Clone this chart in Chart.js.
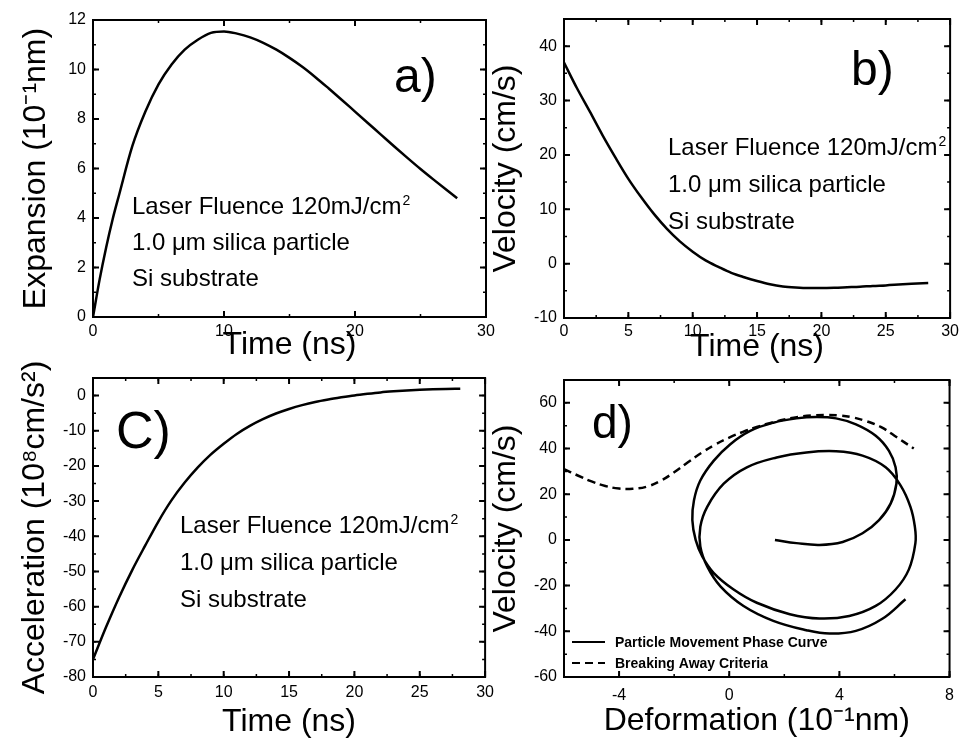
<!DOCTYPE html>
<html>
<head>
<meta charset="utf-8">
<script src="https://cdn.jsdelivr.net/npm/chart.js@4.4.1/dist/chart.umd.min.js"></script>
<style>
body { margin: 0; background: #fff; }
#wrap { position: relative; width: 963px; height: 749px; overflow: hidden; background: #fff; }
canvas { position: absolute; }
</style>
</head>
<body>
<div id="wrap">
  <canvas id="chartA" width="500" height="372" style="left:0;top:0"></canvas>
  <canvas id="chartB" width="483" height="372" style="left:480px;top:0"></canvas>
  <canvas id="chartC" width="500" height="394" style="left:0;top:355px"></canvas>
  <canvas id="chartD" width="483" height="394" style="left:480px;top:355px"></canvas>
</div>
<script>
// a) expansion (10^-1 nm) vs time (ns)
const timeA = [0, 0.5, 1, 1.5, 2, 3, 4, 5, 6, 7, 8, 9, 10, 11, 12, 13, 14, 15, 16, 17, 18, 19, 20, 21, 22, 23, 24, 25, 26, 27, 27.8];
const expansion = [0, 1.5, 2.8, 3.95, 4.95, 6.9, 8.3, 9.4, 10.2, 10.8, 11.2, 11.48, 11.54, 11.45, 11.3, 11.08, 10.8, 10.47, 10.1, 9.68, 9.23, 8.77, 8.3, 7.83, 7.36, 6.89, 6.43, 5.98, 5.55, 5.13, 4.8];

// b) velocity (cm/s) vs time
const timeB = [0, 1, 2, 3, 4, 5, 6, 7, 8, 9, 10, 11, 12, 13, 14, 15, 16, 17, 18, 19, 20, 21, 22, 23, 24, 25, 26, 27, 28.3];
const velocity = [37, 32.3, 28, 23.6, 19.5, 15.6, 12.2, 9.1, 6.4, 4.1, 2.2, 0.6, -0.6, -1.7, -2.5, -3.2, -3.8, -4.2, -4.4, -4.5, -4.5, -4.45, -4.35, -4.25, -4.1, -4.0, -3.85, -3.7, -3.55];

// c) acceleration (10^8 cm/s^2) vs time
const timeC = [0, 1, 2, 3, 4, 5, 6, 7, 8, 9, 10, 11, 12, 13, 14, 15, 16, 17, 18, 19, 20, 21, 22, 23, 24, 25, 26, 27, 28.1];
const acceleration = [-75, -65.8, -57.3, -49.6, -42.6, -35.8, -29.8, -24.8, -20.5, -16.8, -13.7, -10.9, -8.6, -6.7, -5.1, -3.8, -2.7, -1.8, -1.1, -0.5, 0.05, 0.5, 0.9, 1.2, 1.45, 1.65, 1.8, 1.9, 1.95];

// d) phase curve: deformation (10^-1 nm) vs velocity (cm/s)
const phaseDeform = [1.66, 2.44, 3.28, 4.12, 4.84, 5.44, 5.86, 6.07, 6.04, 5.80, 5.32, 4.60, 3.88, 3.16, 2.44, 1.60, 0.76, 0.04, -0.56, -1.05, -1.28, -1.34, -1.22, -0.98, -0.56, 0.16, 1.0, 2.2, 3.28, 4.36, 5.32, 6.04, 6.52, 6.76, 6.74, 6.58, 6.22, 5.68, 4.84, 3.88, 2.80, 1.72, 0.64, -0.20, -0.80, -1.05, -1.05, -0.80, -0.32, 0.52, 1.60, 2.80, 3.64, 4.60, 5.56, 6.40];
const phaseVelocity = [0, -1.4, -2.2, -0.9, 2.9, 8.7, 15.9, 24.6, 31.8, 39.0, 45.6, 50.6, 53.2, 53.8, 53.2, 51.3, 47.7, 41.9, 34.7, 26.0, 17.4, 8.7, 0, -7.2, -14.5, -21.7, -27.5, -32.5, -34.4, -33.3, -28.9, -21.7, -13.0, -1.4, 5.8, 14.5, 23.9, 31.8, 36.9, 38.8, 38.3, 36.1, 31.8, 24.6, 14.5, 5.8, -2.9, -11.6, -20.3, -28.9, -35.4, -39.5, -41.0, -39.8, -34.5, -26.0];
const critDeform = [-6.0, -5.5, -5.0, -4.5, -4.0, -3.5, -3.0, -2.5, -2.0, -1.5, -1.0, -0.5, 0, 0.5, 1.0, 1.5, 2.0, 2.5, 3.0, 3.5, 4.0, 4.5, 5.0, 5.5, 6.0, 6.7];
const critVelocity = [31, 28.2, 25.6, 23.6, 22.5, 22.4, 23.3, 25.8, 29.6, 34, 38.2, 41.8, 44.8, 47.3, 49.4, 51.2, 52.7, 53.8, 54.5, 54.7, 54.5, 53.6, 51.9, 49.5, 45.6, 40.0];

const noteLines = ['Laser Fluence 120mJ/cm', '1.0 \u03bcm silica particle', 'Si substrate'];
const legendLabels = ['Particle Movement Phase Curve', 'Breaking Away Criteria'];

const FONT = "'Liberation Sans', Arial, sans-serif";
const pts = (xs, ys) => xs.map((x, i) => ({x: x, y: ys[i]}));

// boxed frame with inward major/minor ticks on all four sides
const framePlugin = {
    id: 'frame',
    afterDatasetsDraw(chart, args, opts) {
        const {ctx, chartArea: a, scales: {x, y}} = chart;
        ctx.save();
        ctx.strokeStyle = '#000';
        const marks = (scale, step, len, horiz) => {
            let v = Math.ceil(scale.min / step - 1e-9) * step;
            for (; v <= scale.max + 1e-9; v += step) {
                const p = scale.getPixelForValue(v);
                ctx.beginPath();
                if (horiz) {
                    ctx.moveTo(p, a.bottom); ctx.lineTo(p, a.bottom - len);
                    ctx.moveTo(p, a.top); ctx.lineTo(p, a.top + len);
                } else {
                    ctx.moveTo(a.left, p); ctx.lineTo(a.left + len, p);
                    ctx.moveTo(a.right, p); ctx.lineTo(a.right - len, p);
                }
                ctx.stroke();
            }
        };
        ctx.lineWidth = 1.5;
        marks(x, opts.xMinor, 3, true);
        marks(y, opts.yMinor, 3, false);
        ctx.lineWidth = 2;
        marks(x, opts.xMajor, 6, true);
        marks(y, opts.yMajor, 6, false);
        ctx.strokeRect(a.left, a.top, a.right - a.left, a.bottom - a.top);
        ctx.restore();
    }
};

// panel letter, the three note lines, and the legend of panel d
const notesPlugin = {
    id: 'notes',
    afterDraw(chart, args, opts) {
        const ctx = chart.ctx;
        ctx.save();
        ctx.fillStyle = '#000';
        ctx.textBaseline = 'alphabetic';
        ctx.textAlign = 'left';
        ctx.font = opts.labelSize + 'px ' + FONT;
        ctx.fillText(opts.label, opts.labelX, opts.labelY);
        if (opts.noteX !== undefined) {
            ctx.font = '24px ' + FONT;
            noteLines.forEach((t, i) => {
                const yy = opts.noteY + i * opts.noteGap;
                ctx.fillText(t, opts.noteX, yy);
                if (i === 0) {
                    const w = ctx.measureText(t).width;
                    ctx.font = '14px ' + FONT;
                    ctx.fillText('2', opts.noteX + w + 1, yy - 9);
                    ctx.font = '24px ' + FONT;
                }
            });
        }
        if (opts.legendX !== undefined) {
            ctx.font = 'bold 14px ' + FONT;
            ctx.textBaseline = 'middle';
            chart.data.datasets.forEach((ds, i) => {
                const yy = opts.legendY + i * 21;
                ctx.strokeStyle = ds.borderColor;
                ctx.lineWidth = 2;
                ctx.setLineDash(ds.borderDash || []);
                ctx.beginPath();
                ctx.moveTo(opts.legendX, yy);
                ctx.lineTo(opts.legendX + 33, yy);
                ctx.stroke();
                ctx.setLineDash([]);
                ctx.fillText(ds.label, opts.legendX + 43, yy + 1);
            });
        }
        ctx.restore();
    }
};

function axis(cfg) {
    return {
        type: 'linear',
        min: cfg.min,
        max: cfg.max,
        grid: { display: false, drawTicks: false },
        border: { display: false },
        ticks: {
            stepSize: cfg.step,
            includeBounds: false,
            color: '#000',
            padding: cfg.tickPad,
            font: { family: FONT, size: 16 }
        },
        title: {
            display: true,
            text: cfg.title,
            color: '#000',
            font: { family: FONT, size: 32, lineHeight: 1 },
            padding: cfg.titlePad
        },
        afterFit: cfg.fit
    };
}

function makeChart(id, datasets, o) {
    return new Chart(document.getElementById(id), {
        type: 'line',
        data: { datasets: datasets },
        options: {
            responsive: false,
            animation: false,
            devicePixelRatio: 1,
            layout: { autoPadding: false, padding: o.padding },
            plugins: {
                legend: { display: false },
                tooltip: { enabled: false },
                frame: o.frame,
                notes: o.notes
            },
            scales: {
                x: axis(Object.assign({}, o.x, { fit: s => { s.height = o.xHeight; } })),
                y: axis(Object.assign({}, o.y, { fit: s => { s.width = o.yWidth; } }))
            }
        },
        plugins: [framePlugin, notesPlugin]
    });
}

const curve = (data, extra) => Object.assign({
    data: data,
    borderColor: '#000',
    borderWidth: 2.5,
    pointRadius: 0,
    fill: false,
    cubicInterpolationMode: 'monotone'
}, extra || {});

makeChart('chartA', [curve(pts(timeA, expansion))], {
    padding: { left: 0, top: 20, right: 14, bottom: 0 },
    xHeight: 55, yWidth: 93,
    x: { min: 0, max: 30, step: 10, tickPad: 5, title: 'Time (ns)', titlePad: { top: 0, bottom: 11 } },
    y: { min: 0, max: 12, step: 2, tickPad: 7, title: 'Expansion (10\u207b\u00b9nm)', titlePad: { top: 20, bottom: 0 } },
    frame: { xMajor: 10, xMinor: 5, yMajor: 2, yMinor: 1 },
    notes: { label: 'a)', labelSize: 48, labelX: 394, labelY: 92, noteX: 132, noteY: 214, noteGap: 36 }
});

makeChart('chartB', [curve(pts(timeB, velocity))], {
    padding: { left: 0, top: 19, right: 8, bottom: 0 },
    xHeight: 54, yWidth: 84,
    x: { min: 0, max: 30, step: 5, tickPad: 4, title: 'Time (ns)', titlePad: { top: 0, bottom: 9 } },
    y: { min: -10, max: 45, step: 10, tickPad: 7, title: 'Velocity (cm/s)', titlePad: { top: 10, bottom: 0 } },
    frame: { xMajor: 5, xMinor: 2.5, yMajor: 10, yMinor: 5 },
    notes: { label: 'b)', labelSize: 48, labelX: 371, labelY: 85, noteX: 188, noteY: 155, noteGap: 37 }
});

makeChart('chartC', [curve(pts(timeC, acceleration))], {
    padding: { left: 0, top: 23, right: 13, bottom: 0 },
    xHeight: 72, yWidth: 93,
    x: { min: 0, max: 30, step: 5, tickPad: 6, title: 'Time (ns)', titlePad: { top: 0, bottom: 11 } },
    y: { min: -80, max: 5, step: 10, tickPad: 7, title: 'Acceleration (10\u2078cm/s\u00b2)', titlePad: { top: 19, bottom: 0 } },
    frame: { xMajor: 5, xMinor: 2.5, yMajor: 10, yMinor: 5 },
    notes: { label: 'C)', labelSize: 52, labelX: 116, labelY: 93, noteX: 180, noteY: 178, noteGap: 37 }
});

makeChart('chartD', [
    curve(pts(phaseDeform, phaseVelocity), { label: legendLabels[0], tension: 0.4, cubicInterpolationMode: 'default' }),
    curve(pts(critDeform, critVelocity), { label: legendLabels[1], borderDash: [8, 5], tension: 0.4, cubicInterpolationMode: 'default' })
], {
    padding: { left: 0, top: 25, right: 8, bottom: 0 },
    xHeight: 72, yWidth: 84,
    x: { min: -6, max: 8, step: 4, tickPad: 9, title: 'Deformation (10\u207b\u00b9nm)', titlePad: { top: 0, bottom: 12 } },
    y: { min: -60, max: 70, step: 20, tickPad: 7, title: 'Velocity (cm/s)', titlePad: { top: 10, bottom: 0 } },
    frame: { xMajor: 4, xMinor: 2, yMajor: 20, yMinor: 10 },
    notes: { label: 'd)', labelSize: 46, labelX: 112, labelY: 83, legendX: 92, legendY: 287 }
});
</script>
</body>
</html>
